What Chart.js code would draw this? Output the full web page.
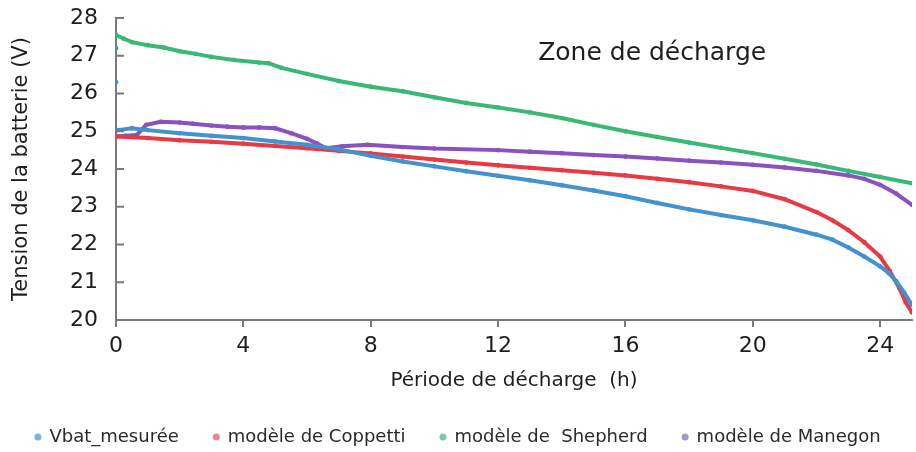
<!DOCTYPE html>
<html>
<head>
<meta charset="utf-8">
<script src="https://cdn.jsdelivr.net/npm/chart.js@4.4.0/dist/chart.umd.min.js"></script>
<style>
body{margin:0;background:#fff}
#cont{width:916px;height:452px}
</style>
</head>
<body>
<div id="cont"><canvas id="myChart"></canvas></div>
<script>
// valeurs (heures / volts)
const heuresVbat = [0, 0, 0, 0, 0.05, 0.5, 1, 2, 3, 4, 5, 6, 7, 8, 9, 10, 11, 12, 13, 14, 15, 16, 17, 18, 19, 20, 21, 22, 22.5, 23, 23.5, 24, 24.25, 24.5, 24.75, 25]
const vbatMesuree = [27.2, null, 26.3, null, 25.03, 25.08, 25.03, 24.95, 24.88, 24.82, 24.73, 24.64, 24.52, 24.35, 24.2, 24.07, 23.94, 23.82, 23.7, 23.57, 23.43, 23.28, 23.1, 22.93, 22.78, 22.64, 22.47, 22.26, 22.13, 21.92, 21.68, 21.42, 21.26, 21.03, 20.73, 20.4]

const heuresCoppetti = [0, 1, 2, 3, 4, 5, 6, 7, 8, 9, 10, 11, 12, 13, 14, 15, 16, 17, 18, 19, 20, 21, 22, 22.5, 23, 23.5, 24, 24.3, 24.6, 24.8, 25]
const coppetti = [24.86, 24.82, 24.76, 24.72, 24.67, 24.61, 24.55, 24.48, 24.41, 24.33, 24.25, 24.17, 24.1, 24.03, 23.97, 23.9, 23.83, 23.74, 23.65, 23.54, 23.42, 23.2, 22.86, 22.64, 22.38, 22.06, 21.68, 21.3, 20.85, 20.47, 20.2]

const heuresShepherd = [0, 0.25, 0.5, 1, 1.5, 2, 2.5, 3, 3.7, 4.5, 4.8, 5.2, 6, 7, 8, 9, 10, 11, 12, 13, 14, 15, 16, 17, 18, 19, 20, 21, 22, 23, 24, 25]
const shepherd = [27.55, 27.45, 27.36, 27.28, 27.22, 27.12, 27.05, 26.97, 26.89, 26.82, 26.8, 26.68, 26.52, 26.33, 26.18, 26.06, 25.9, 25.75, 25.63, 25.5, 25.35, 25.17, 25.0, 24.85, 24.7, 24.56, 24.42, 24.27, 24.12, 23.95, 23.79, 23.62]

const heuresManegon = [0, 0.3, 0.65, 0.95, 1.4, 2, 2.4, 3, 3.5, 4, 4.5, 5, 5.5, 6, 6.3, 6.6, 7.1, 7.9, 9, 10, 12, 13, 14, 15, 16, 17, 18, 19, 20, 21, 22, 23, 23.5, 24, 24.5, 25]
const manegon = [24.86, 24.88, 24.9, 25.17, 25.25, 25.23, 25.2, 25.15, 25.12, 25.1, 25.1, 25.08, 24.95, 24.8, 24.68, 24.55, 24.6, 24.64, 24.58, 24.54, 24.5, 24.46, 24.42, 24.37, 24.33, 24.28, 24.22, 24.17, 24.11, 24.04, 23.95, 23.83, 23.74, 23.58, 23.35, 23.05]

const noms = ['Vbat_mesurée', 'modèle de Coppetti', 'modèle de  Shepherd', 'modèle de Manegon']
const couleurs = ['rgb(66,146,208)', 'rgb(232,58,68)', 'rgb(58,184,118)', 'rgb(138,82,190)']
const couleursLegende = ['#7fb2dc', '#e48a90', '#7cc6b2', '#a597cc']
const texteZone = 'Zone de décharge'

function points(xs, ys) {
    var res = []
    for (let i = 0; i < xs.length; i++) {
        res.push({x: xs[i], y: ys[i]})
    }
    return res
}

function serie(i, xs, ys) {
    return {
        label: noms[i],
        data: points(xs, ys),
        showLine: true,
        spanGaps: false,
        borderColor: couleurs[i],
        backgroundColor: couleurs[i],
        borderWidth: 4,
        pointRadius: 2.4,
        pointBorderWidth: 0,
        pointBackgroundColor: couleurs[i],
        pointStyle: 'circle'
    }
}

const annotations = {
    id: 'annotations',
    afterDraw(chart) {
        const ctx = chart.ctx
        const sx = chart.scales.x
        const sy = chart.scales.y
        ctx.save()
        // petites graduations vers l'intérieur sur l'axe des tensions
        ctx.strokeStyle = '#7a7a7a'
        ctx.lineWidth = 2
        sy.ticks.forEach(t => {
            const py = sy.getPixelForValue(t.value)
            ctx.beginPath()
            ctx.moveTo(sx.left, py)
            ctx.lineTo(sx.left + 8, py)
            ctx.stroke()
        })
        ctx.font = '25px "DejaVu Sans"'
        ctx.fillStyle = '#1e1e1e'
        ctx.textAlign = 'center'
        ctx.textBaseline = 'middle'
        ctx.fillText(texteZone, sx.getPixelForValue(16.84), sy.getPixelForValue(27.05))
        ctx.restore()
    }
}

Chart.defaults.font.family = '"DejaVu Sans"'
const ctx = document.getElementById('myChart')
var myChart = new Chart(ctx, {
    type: 'scatter',
    data: {
        datasets: [
            serie(0, heuresVbat, vbatMesuree),
            serie(1, heuresCoppetti, coppetti),
            serie(2, heuresShepherd, shepherd),
            serie(3, heuresManegon, manegon)
        ]
    },
    options: {
        responsive: true,
        maintainAspectRatio: false,
        animation: false,
        layout: {padding: {top: 18, right: 0, left: 0, bottom: 0}},
        plugins: {
            tooltip: {enabled: false},
            legend: {
                position: 'bottom',
                maxHeight: 59,
                labels: {
                    usePointStyle: true,
                    boxWidth: 5,
                    boxHeight: 5,
                    padding: 35,
                    color: '#2a2a2a',
                    font: {size: 18},
                    generateLabels: function(chart) {
                        return Chart.defaults.plugins.legend.labels.generateLabels(chart).map(function(l, i) {
                            l.fillStyle = couleursLegende[i]
                            l.strokeStyle = couleursLegende[i]
                            l.lineWidth = 0
                            return l
                        })
                    }
                }
            }
        },
        scales: {
            x: {
                type: 'linear',
                min: 0,
                max: 25,
                afterFit: function(scale) { scale.height = 73 },
                border: {color: '#7a7a7a', width: 2},
                grid: {display: true, drawOnChartArea: false, drawTicks: true, tickLength: 7, color: '#7a7a7a', lineWidth: 2},
                ticks: {stepSize: 4, includeBounds: false, padding: 6, color: '#1e1e1e', font: {size: 22}, maxRotation: 0},
                title: {display: true, text: 'Période de décharge  (h)', color: '#1e1e1e', font: {size: 20}, padding: {top: 4, bottom: 0}}
            },
            y: {
                min: 20,
                max: 28,
                afterFit: function(scale) {
                    scale.width = 116
                    scale.paddingTop = 0
                    scale.paddingBottom = 0
                },
                border: {color: '#7a7a7a', width: 2},
                grid: {display: false, drawTicks: false},
                ticks: {stepSize: 1, padding: 18, color: '#1e1e1e', font: {size: 22}},
                title: {display: true, text: 'Tension de la batterie (V)', color: '#1e1e1e', font: {size: 21}, padding: {top: 9, bottom: 0}}
            }
        }
    },
    plugins: [annotations]
});
</script>
</body>
</html>
